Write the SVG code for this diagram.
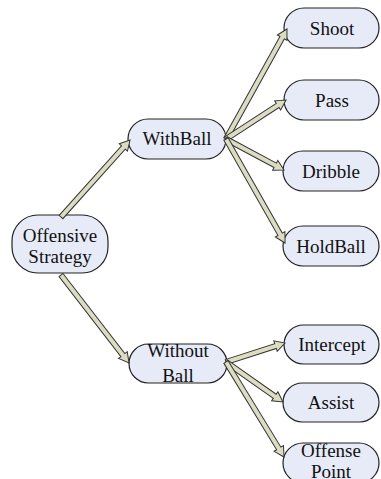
<svg xmlns="http://www.w3.org/2000/svg" width="381" height="479" viewBox="0 0 381 479">
<style>
.node rect{fill:#e6ebf7;stroke:#222;stroke-width:1.2}
.node text{font-family:'Liberation Serif','Times New Roman',serif;font-size:19px;fill:#111;text-anchor:middle}
.arr{fill:#dcdcc2;stroke:#333;stroke-width:1;stroke-linejoin:miter}
</style>
<rect width="381" height="479" fill="#fff"/>
<g id="n-offensive-strategy" class="node"><rect x="12" y="215" width="96" height="58" rx="26"/><text x="60" y="242">Offensive</text><text x="60" y="263">Strategy</text></g>
<g id="n-withball" class="node"><rect x="128" y="119" width="98" height="40" rx="20"/><text x="177" y="145">WithBall</text></g>
<g id="n-withoutball" class="node"><rect x="129" y="344" width="98" height="39" rx="19.5"/><text x="178" y="357">Without</text><text x="178" y="382">Ball</text></g>
<g id="n-shoot" class="node"><rect x="284" y="8" width="95" height="40" rx="20"/><text x="332" y="35">Shoot</text></g>
<g id="n-pass" class="node"><rect x="284" y="80" width="95" height="40" rx="20"/><text x="332" y="107">Pass</text></g>
<g id="n-dribble" class="node"><rect x="283" y="151" width="96" height="40" rx="20"/><text x="331" y="178">Dribble</text></g>
<g id="n-holdball" class="node"><rect x="283" y="226" width="96" height="40" rx="20"/><text x="331" y="253">HoldBall</text></g>
<g id="n-intercept" class="node"><rect x="284" y="325" width="95" height="39" rx="19.5"/><text x="332" y="351">Intercept</text></g>
<g id="n-assist" class="node"><rect x="283" y="383" width="96" height="39" rx="19.5"/><text x="331" y="409">Assist</text></g>
<g id="n-offense-point" class="node"><rect x="283" y="443" width="96" height="40" rx="20"/><text x="331" y="457">Offense</text><text x="331" y="478">Point</text></g>
<g id="connectors">
<path class="arr" transform="translate(61,217) rotate(-48.1)" d="M0,-2.5 L93.4,-2.5 L93.4,-5.5 L103.4,0 L93.4,5.5 L93.4,2.5 L0,2.5 Z"/>
<path class="arr" transform="translate(61,275) rotate(52.3)" d="M0,-2.5 L101.2,-2.5 L101.2,-5.5 L111.2,0 L101.2,5.5 L101.2,2.5 L0,2.5 Z"/>
<path class="arr" transform="translate(226,139) rotate(-61)" d="M0,-2.5 L115.8,-2.5 L115.8,-5.5 L125.8,0 L115.8,5.5 L115.8,2.5 L0,2.5 Z"/>
<path class="arr" transform="translate(226,139) rotate(-33)" d="M0,-2.5 L61.6,-2.5 L61.6,-5.5 L71.6,0 L61.6,5.5 L61.6,2.5 L0,2.5 Z"/>
<path class="arr" transform="translate(226,139) rotate(28.1)" d="M0,-2.5 L55.8,-2.5 L55.8,-5.5 L65.8,0 L55.8,5.5 L55.8,2.5 L0,2.5 Z"/>
<path class="arr" transform="translate(226,139) rotate(60.4)" d="M0,-2.5 L109.6,-2.5 L109.6,-5.5 L119.6,0 L109.6,5.5 L109.6,2.5 L0,2.5 Z"/>
<path class="arr" transform="translate(226,362) rotate(-17.85)" d="M0,-2.5 L52,-2.5 L52,-5.5 L62,0 L52,5.5 L52,2.5 L0,2.5 Z"/>
<path class="arr" transform="translate(226,362) rotate(35.1)" d="M0,-2.5 L59.6,-2.5 L59.6,-5.5 L69.6,0 L59.6,5.5 L59.6,2.5 L0,2.5 Z"/>
<path class="arr" transform="translate(226,362) rotate(58.6)" d="M0,-2.5 L101.3,-2.5 L101.3,-5.5 L111.3,0 L101.3,5.5 L101.3,2.5 L0,2.5 Z"/>
</g>
</svg>
